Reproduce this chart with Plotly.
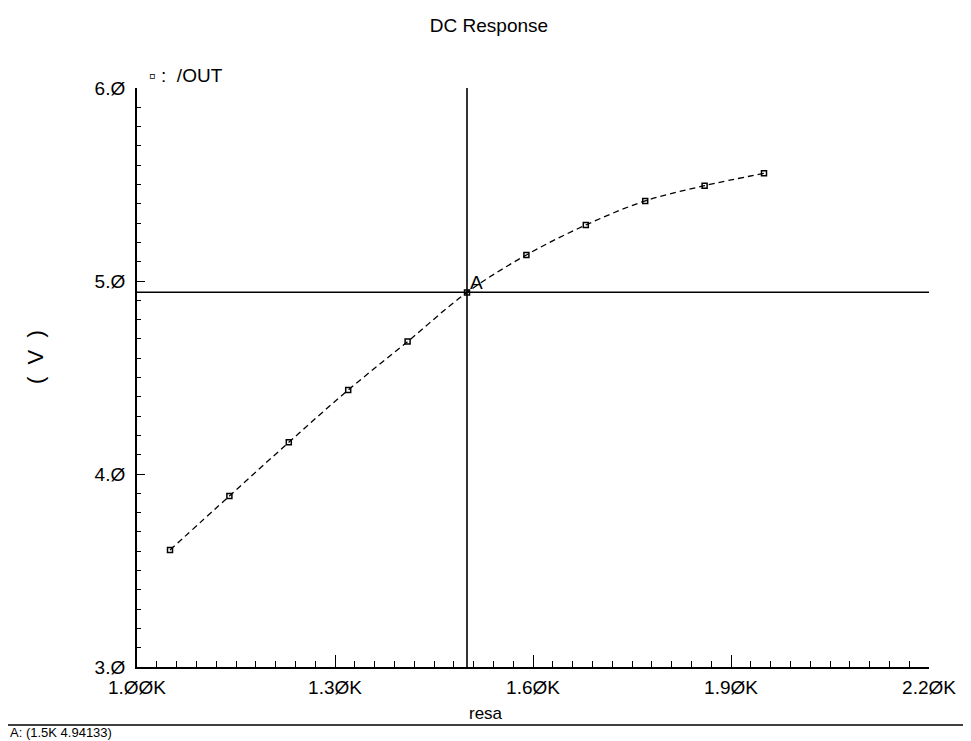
import plotly.graph_objects as go

# Data
resa = [1.05, 1.14, 1.23, 1.32, 1.41, 1.50, 1.59, 1.68, 1.77, 1.86, 1.95]
out_v = [3.606, 3.886, 4.164, 4.435, 4.686, 4.941, 5.135, 5.290, 5.415, 5.494, 5.558]

x_ticks = [1.0, 1.3, 1.6, 1.9, 2.2]
x_tick_text = ["1.ØØK", "1.3ØK", "1.6ØK", "1.9ØK", "2.2ØK"]
y_ticks = [3.0, 4.0, 5.0, 6.0]
y_tick_text = ["3.Ø", "4.Ø", "5.Ø", "6.Ø"]

cursor_x = 1.5
cursor_y = 4.94133
cursor_label = "A: (1.5K 4.94133)"

# page body margin offsets the figure by 8px
OFF = 8
W, H = 971 - OFF, 741 - OFF
# plot area in window pixels: x 137..929, y 88..667
ML = 137 - OFF
MT = 88 - OFF
MR = W - (929 - OFF)
MB = H - (667 - OFF)
PW, PH = W - ML - MR, H - MT - MB

def px(xw):
    return (xw - OFF - ML) / PW

def py(yw):
    return 1 - (yw - OFF - MT) / PH

FONT = "Liberation Sans"

fig = go.Figure()
fig.add_trace(go.Scatter(
    x=resa, y=out_v, mode="lines+markers",
    line=dict(color="black", width=1.3, dash="6px,4px", shape="spline"),
    marker=dict(symbol="square-open", size=5, color="black", line=dict(width=1.5, color="black")),
    showlegend=False, hoverinfo="skip",
))

# cursor lines
fig.add_shape(type="line", x0=1.0, x1=2.2, y0=cursor_y, y1=cursor_y,
              xref="x", yref="y", line=dict(color="black", width=1.6))
fig.add_shape(type="line", x0=cursor_x, x1=cursor_x, y0=3.0, y1=6.0,
              xref="x", yref="y", line=dict(color="black", width=1.6))

# bottom separator line
fig.add_shape(type="line", xref="paper", yref="paper",
              x0=px(OFF), x1=px(971), y0=py(725), y1=py(725),
              line=dict(color="black", width=1.5))

fig.add_annotation(x=cursor_x, y=cursor_y, xref="x", yref="y", text="A",
                   showarrow=False, xanchor="left", yanchor="bottom", xshift=1, yshift=-3,
                   font=dict(family=FONT, size=19, color="black"))

fig.add_annotation(xref="paper", yref="paper", x=px(OFF), y=py(723),
                   text=cursor_label, showarrow=False, xanchor="left", yanchor="top",
                   font=dict(family=FONT, size=13, color="black"))

fig.add_annotation(xref="paper", yref="paper", x=px(486), y=py(713),
                   text="resa", showarrow=False, xanchor="center", yanchor="middle",
                   font=dict(family=FONT, size=17, color="black"))

fig.add_annotation(xref="paper", yref="paper", x=px(35), y=py(357),
                   text="(  V  )", showarrow=False, textangle=-90, xanchor="center", yanchor="middle",
                   font=dict(family=FONT, size=22, color="black"))

fig.add_annotation(xref="paper", yref="paper", x=px(147), y=py(75),
                   text="▫ :  /OUT", showarrow=False, xanchor="left", yanchor="middle",
                   font=dict(family=FONT, size=19, color="black"))

fig.update_layout(
    width=W, height=H,
    margin=dict(l=ML, r=MR, t=MT, b=MB),
    paper_bgcolor="white", plot_bgcolor="white",
    title=dict(text="DC Response", x=(489 - OFF) / W, xanchor="center",
               y=1 - (25 - OFF) / H, yanchor="middle",
               font=dict(family=FONT, size=19, color="black")),
    font=dict(family=FONT, color="black"),
)
fig.update_xaxes(
    range=[1.0, 2.2], tickvals=x_ticks, ticktext=x_tick_text,
    showgrid=False, zeroline=False, showline=True, linecolor="black", linewidth=2,
    ticks="inside", ticklen=12, tickwidth=1, tickcolor="black",
    minor=dict(dtick=0.03, tick0=1.0, ticks="inside", ticklen=6, tickcolor="black", tickwidth=1),
    tickfont=dict(family=FONT, size=19, color="black"), ticklabelstandoff=2,
)
fig.update_yaxes(
    range=[3.0, 6.0], tickvals=y_ticks, ticktext=y_tick_text,
    showgrid=False, zeroline=False, showline=True, linecolor="black", linewidth=2,
    ticks="inside", ticklen=8, tickwidth=1, tickcolor="black",
    minor=dict(dtick=0.1, tick0=3.0, ticks="inside", ticklen=4, tickcolor="black", tickwidth=1),
    tickfont=dict(family=FONT, size=19, color="black"), ticklabelstandoff=6,
)

fig.write_html("out.html")
